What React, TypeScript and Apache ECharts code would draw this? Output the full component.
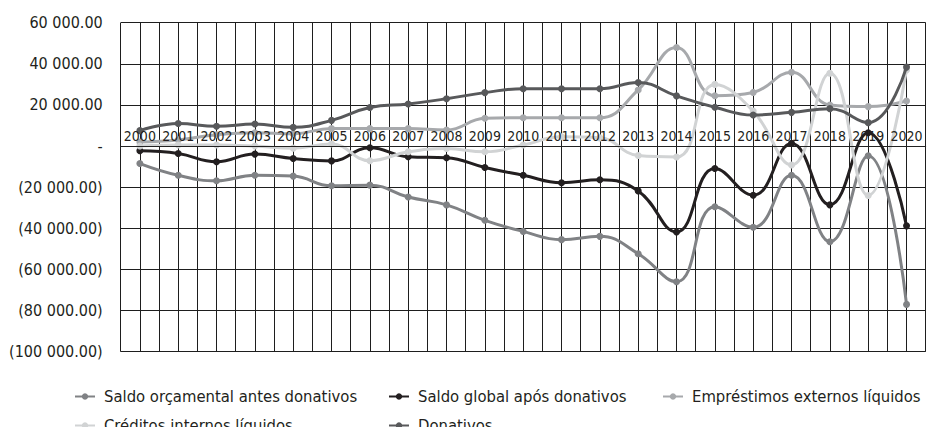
import React, { useEffect, useRef } from "react";
import * as echarts from "echarts";

const years = ["2000","2001","2002","2003","2004","2005","2006","2007","2008","2009","2010","2011","2012","2013","2014","2015","2016","2017","2018","2019","2020"];

const seriesNames = [
  "Saldo orçamental antes donativos",
  "Saldo global após donativos",
  "Empréstimos externos líquidos",
  "Créditos internos líquidos",
  "Donativos",
];

const saldoOrcamental = [-8500, -14200, -16900, -14200, -14600, -19300, -19000, -24800, -28600, -36100, -41500, -45500, -43900, -52400, -66000, -29500, -39500, -14200, -46500, -4700, -77000];
const saldoGlobal = [-2300, -3600, -7600, -3900, -6000, -7200, -800, -5200, -5700, -10400, -14200, -17800, -16400, -21800, -41800, -10900, -23900, 1300, -28600, 6500, -38800];
const emprestimos = [2000, 3000, 5500, 6500, 6000, 8500, 8500, 8500, 7800, 13500, 13800, 13800, 13800, 27300, 47900, 24500, 26100, 35900, 20000, 19200, 21900];
const creditos = [0, 500, 500, 0, -1000, 1000, -7100, -2800, -1200, -2800, 500, 4500, 4000, -4600, -5300, 30000, 17000, -9200, 35400, -24000, 37000];
const donativos = [7500, 11000, 9600, 10700, 9100, 12500, 18800, 20500, 23000, 26000, 27900, 27900, 27900, 30900, 24400, 18900, 15100, 16400, 18200, 11400, 38400];

const seriesData = [saldoOrcamental, saldoGlobal, emprestimos, creditos, donativos];
const colors = ["#808285", "#231f20", "#a7a9ac", "#d1d3d4", "#58595b"];

const yMin = -100000;
const yMax = 60000;
const yStep = 20000;

const FONT = "'DejaVu Sans Condensed', 'Liberation Sans Narrow', sans-serif";

const GRID_TOP = 22.7;
const GRID_BOTTOM = 75.3;
const CHART_H = 427;

function fmtNum(n: number): string {
  const s = n.toFixed(2);
  const [i, d] = s.split(".");
  return i.replace(/\B(?=(\d{3})+(?!\d))/g, " ") + "." + d;
}
function yLabel(v: number): string {
  if (v === 0) return "-";
  if (v < 0) return "(" + fmtNum(-v) + ")";
  return fmtNum(v);
}

export default function App() {
  const ref = useRef<HTMLDivElement>(null);
  useEffect(() => {
    if (!ref.current) return;
    const chart = echarts.init(ref.current, undefined, { renderer: "svg" });
    const gridH = CHART_H - GRID_TOP - GRID_BOTTOM;
    // distance from the grid bottom up to the value 0 on the y axis
    const zeroOffset = (gridH * (0 - yMin)) / (yMax - yMin);
    const legendPos = [
      { left: 69, top: 383 },
      { left: 383, top: 383 },
      { left: 657, top: 383 },
      { left: 69, top: 412 },
      { left: 383, top: 412 },
    ];
    chart.setOption({
      animation: false,
      backgroundColor: "#ffffff",
      grid: { left: 120.7, right: 11.3, top: GRID_TOP, bottom: GRID_BOTTOM, containLabel: false },
      legend: seriesNames.map((n, i) => ({
        data: [n],
        left: legendPos[i].left,
        top: legendPos[i].top,
        itemWidth: 20,
        itemHeight: 8,
        textStyle: { fontFamily: FONT, fontSize: 16.5, color: "#231f20", padding: [0, 0, 0, 4] },
      })),
      xAxis: [
        {
          type: "category",
          data: years,
          boundaryGap: true,
          position: "bottom",
          offset: -zeroOffset,
          z: 20,
          axisLine: { show: true, onZero: false, lineStyle: { color: "#222", width: 1 } },
          axisTick: { show: false },
          axisLabel: {
            inside: true,
            margin: 3,
            interval: 0,
            fontFamily: FONT,
            fontSize: 14,
            color: "#231f20",
          },
          splitLine: { show: false },
        },
        {
          type: "value",
          min: 0,
          max: years.length * 2,
          interval: 1,
          position: "top",
          axisLine: { show: false, onZero: false },
          axisTick: { show: false },
          axisLabel: { show: false },
          splitLine: { show: true, lineStyle: { color: "#1e1e1e", width: 1 } },
        },
      ],
      yAxis: {
        type: "value",
        min: yMin,
        max: yMax,
        interval: yStep,
        axisLine: { show: false, onZero: false },
        axisTick: { show: false },
        axisLabel: {
          formatter: yLabel,
          margin: 18,
          fontFamily: FONT,
          fontSize: 16,
          color: "#231f20",
        },
        splitLine: { show: true, lineStyle: { color: "#1e1e1e", width: 1 } },
      },
      series: seriesNames.map((n, i) => ({
        name: n,
        type: "line",
        xAxisIndex: 0,
        data: seriesData[i],
        smooth: 0.45,
        symbol: "circle",
        symbolSize: 7,
        lineStyle: { color: colors[i], width: 3 },
        itemStyle: { color: colors[i] },
        z: 2 + i,
      })),
    });
    return () => chart.dispose();
  }, []);
  return <div ref={ref} style={{ width: 937, height: 427, position: "absolute", left: 0, top: 0 }} />;
}
